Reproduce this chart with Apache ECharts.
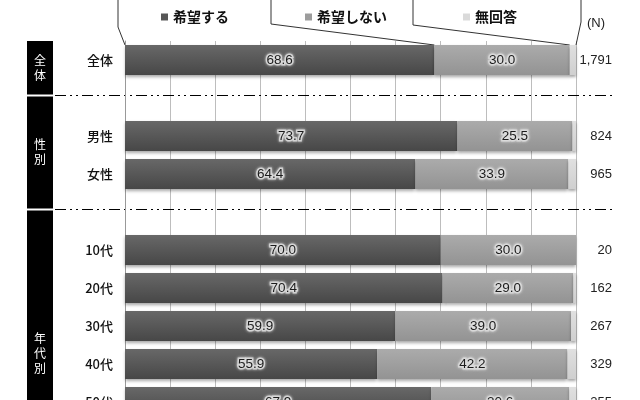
<meta charset="utf-8">
<script src="https://cdn.jsdelivr.net/npm/echarts/dist/echarts.min.js"></script>
<style>body{margin:0;overflow:hidden}</style>
<!-- the source chart is cropped at the bottom: draw it 421px tall and let the window cut it -->
<div id="main" style="position:absolute;left:0;top:0;width:640px;height:421px"></div>

<script type="text/javascript">
// rows (blank rows are the gaps under the dash-dot lines)
const categories=['全体',' ','男性','女性','  ','10代','20代','30代','40代','50代']
const sizes=['1,791','','824','965','','20','162','267','329','255']
const hope=[68.6,null,73.7,64.4,null,70.0,70.4,59.9,55.9,67.9]
const noHope=[30.0,null,25.5,33.9,null,30.0,29.0,39.0,42.2,30.6]
const noAnswer=[1.4,null,0.8,1.7,null,0.0,0.6,1.1,1.9,1.5]
const names=['希望する','希望しない','無回答']

const jp='"Noto Sans CJK JP", sans-serif'
const num='"Liberation Sans", Arial, sans-serif'

let myChart=echarts.init(main)

const grad=(a,b)=>new echarts.graphic.LinearGradient(0,0,0,1,[{offset:0,color:a},{offset:1,color:b}])

const label={
  show: true,
  position: 'inside',
  formatter: p=>p.value==null?'':p.value.toFixed(1),
  color: '#1c1c1c',
  fontSize: 13.5,
  fontFamily: num,
  textBorderColor: 'rgba(215,215,215,0.85)',
  textBorderWidth: 3,
  textShadowColor: 'rgba(240,240,240,0.9)',
  textShadowBlur: 3,
}
const shadow={shadowColor: 'rgba(0,0,0,0.35)', shadowBlur: 3, shadowOffsetY: 2}

myChart.setOption({
  backgroundColor: '#fff',
  animation: false,
  legend: {
    data: [
      {name: names[0], itemStyle: {color: '#575757'}},
      {name: names[1], itemStyle: {color: '#9c9c9c'}},
      {name: names[2], itemStyle: {color: '#dadada'}},
    ],
    left: 156,
    top: 5,
    icon: 'rect',
    itemWidth: 7,
    itemHeight: 7,
    itemGap: 76,
    textStyle: {fontFamily: jp, fontSize: 14, fontWeight: 'bold', color: '#111'},
  },
  grid: {left: 125, right: 64, top: 41, bottom: 0},
  xAxis: {
    type: 'value',
    min: 0,
    max: 100,
    interval: 10,
    axisLabel: {show: false},
    axisTick: {show: false},
    axisLine: {show: false},
    splitLine: {lineStyle: {color: '#bdbdbd', width: 1}},
  },
  yAxis: [{
    type: 'category',
    data: categories,
    inverse: true,
    axisLine: {lineStyle: {color: '#999'}},
    axisTick: {length: 4, lineStyle: {color: '#999'}},
    axisLabel: {color: '#111', fontSize: 13, fontFamily: jp, fontWeight: 500, margin: 12},
  }, {
    type: 'category',
    data: sizes,
    inverse: true,
    position: 'right',
    axisLine: {show: false},
    axisTick: {show: false},
    axisLabel: {color: '#222', fontSize: 13, fontFamily: num, align: 'right', margin: 36},
  }],
  series: [
    {name: names[0], type: 'bar', stack: 'a', data: hope, barWidth: 30, label,
     itemStyle: Object.assign({color: grad('#686868', '#474747')}, shadow)},
    {name: names[1], type: 'bar', stack: 'a', data: noHope, barWidth: 30, label,
     itemStyle: Object.assign({color: grad('#ababab', '#939393')}, shadow)},
    {name: names[2], type: 'bar', stack: 'a', data: noAnswer, barWidth: 30,
     itemStyle: Object.assign({color: grad('#e0e0e0', '#cfcfcf')}, shadow)},
  ],
})

// decorations: group band on the left, dash-dot separators, legend leader lines
const px=(x,i)=>myChart.convertToPixel({gridIndex: 0}, [x, categories[i]])
const sepY=[px(0,1)[1]-3, px(0,4)[1]-3].map(y=>Math.round(y)+0.5)
const barTop=px(0,0)[1]-15
const ends=[0, hope[0], hope[0]+noHope[0], 100].map(v=>px(v,0)[0])
const tops=[118, 271, 413, 581]
const knees=[27, 24, 25, 22]

const bands=[[41, sepY[0]-1, '全\n体', 68], [sepY[0]+1, sepY[1]-1, '性\n別', 152], [sepY[1]+1, 421, '年\n代\n別', 353]]
const g=[]
bands.forEach(b=>{
  g.push({type: 'rect', shape: {x: 27, y: b[0], width: 26, height: b[1]-b[0]}, style: {fill: '#000'}})
  g.push({type: 'text', x: 40, y: b[3], style: {text: b[2], fill: '#fff', font: '12px '+jp, align: 'center', verticalAlign: 'middle', lineHeight: 15}})
})
sepY.forEach(y=>g.push({type: 'line', shape: {x1: 55, y1: y, x2: 615, y2: y},
  style: {stroke: '#000', lineWidth: 1, lineDash: [11, 4, 2, 4, 2, 4]}}))
ends.forEach((x,i)=>g.push({type: 'polyline', shape: {points: [[tops[i], 0], [tops[i], knees[i]], [x, barTop]]},
  style: {stroke: '#333', lineWidth: 1, fill: null}}))
g.push({type: 'text', x: 587, y: 23, style: {text: '(N)', fill: '#222', font: '13px '+num, verticalAlign: 'middle'}})

myChart.setOption({graphic: g})
</script>
